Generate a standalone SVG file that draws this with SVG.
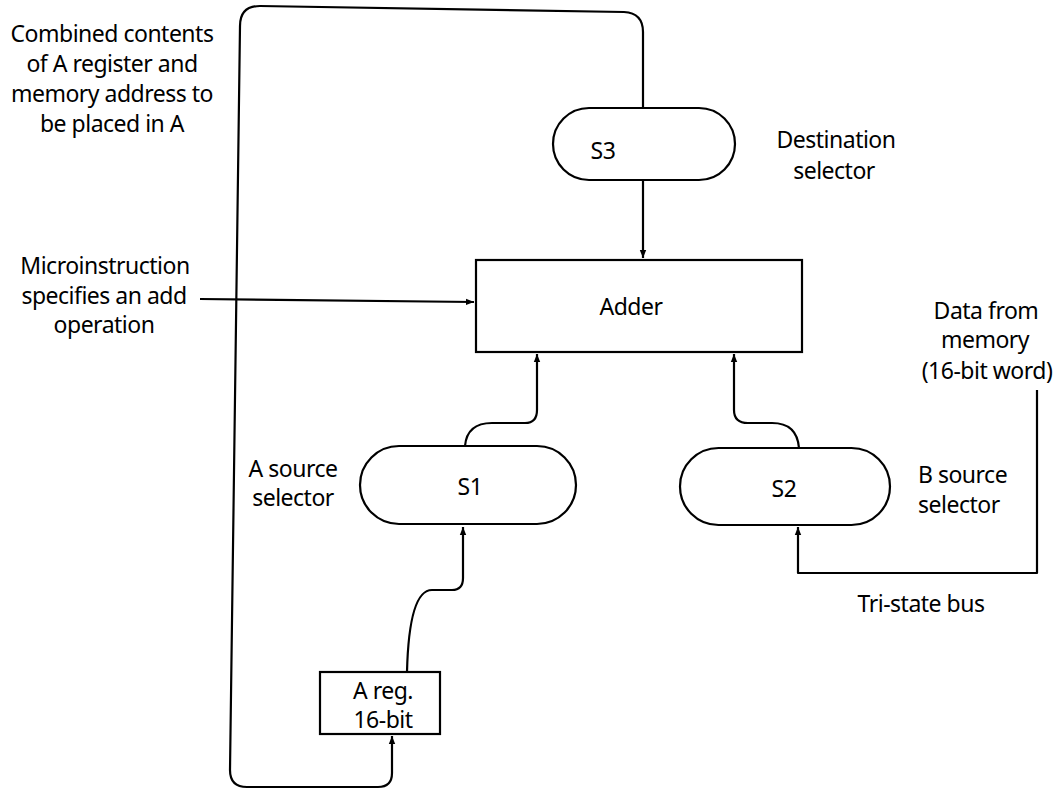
<svg xmlns="http://www.w3.org/2000/svg" width="1064" height="790" viewBox="0 0 1064 790">
<defs>
<style>
.ln{fill:none;stroke:#000;stroke-width:2.2;stroke-linejoin:round}
.nd{fill:#fff;stroke:#000;stroke-width:2.2}
text{font-family:"Noto Sans","Liberation Sans",sans-serif;font-size:23px;letter-spacing:-0.5px;fill:#000}
.c{text-anchor:middle}
</style>
<marker id="ah" viewBox="0 0 10 10" refX="10" refY="5" markerWidth="8" markerHeight="8" markerUnits="userSpaceOnUse" orient="auto"><path d="M0,1 L10,5 L0,9 z" fill="#000"/></marker>
</defs>
<rect width="1064" height="790" fill="#fff"/>
<g id="connectors">
<path class="ln" d="M643,108 L643,32 Q643,13 624,12 L260,6 Q240,6 240,26 L230,770 Q230,787 247,787 L378,787 Q392,787 392,773 L392,736" marker-end="url(#ah)"/>
<path class="ln" d="M643,180 L643,258" marker-end="url(#ah)"/>
<path class="ln" d="M200,299 L474,302" marker-end="url(#ah)"/>
<path class="ln" d="M465,446 Q467,423 492,423 L525,423 Q537,423 537,410 L537,354" marker-end="url(#ah)"/>
<path class="ln" d="M799,448 Q797,423 772,423 L748,423 Q734,423 734,410 L734,354" marker-end="url(#ah)"/>
<path class="ln" d="M407,672 Q409,590 432,590 L452,590 Q463,590 463,578 L463,527" marker-end="url(#ah)"/>
<path class="ln" d="M1037,390 L1037,573 L798,573 L798,527" marker-end="url(#ah)"/>
</g>
<g id="S3"><rect class="nd" x="553" y="108" width="182" height="72" rx="36"/><text class="c" x="603" y="159">S3</text></g>
<g id="adder"><rect class="nd" x="476" y="260" width="326" height="92"/><text class="c" x="631" y="315">Adder</text></g>
<g id="S1"><rect class="nd" x="360" y="446" width="216" height="78" rx="39"/><text class="c" x="470" y="495">S1</text></g>
<g id="S2"><rect class="nd" x="680" y="448" width="210" height="77" rx="38.5"/><text class="c" x="784" y="497">S2</text></g>
<g id="areg"><rect class="nd" x="320" y="672" width="120" height="62"/><text class="c" x="383" y="699">A reg.</text><text class="c" x="383" y="728">16-bit</text></g>
<g id="labels">
<text class="c" x="112" y="42">Combined contents</text>
<text class="c" x="112" y="72">of A register and</text>
<text class="c" x="112" y="102">memory address to</text>
<text class="c" x="112" y="132">be placed in A</text>
<text class="c" x="836" y="148">Destination</text>
<text class="c" x="834" y="179">selector</text>
<text class="c" x="105" y="274">Microinstruction</text>
<text class="c" x="104" y="304">specifies an add</text>
<text class="c" x="104" y="333">operation</text>
<text class="c" x="986" y="319">Data from</text>
<text class="c" x="985" y="348">memory</text>
<text class="c" x="987" y="379">(16-bit word)</text>
<text class="c" x="293" y="477">A source</text>
<text class="c" x="293" y="506">selector</text>
<text x="918" y="483">B source</text>
<text x="918" y="513">selector</text>
<text class="c" x="921" y="612">Tri-state bus</text>
</g>
</svg>
